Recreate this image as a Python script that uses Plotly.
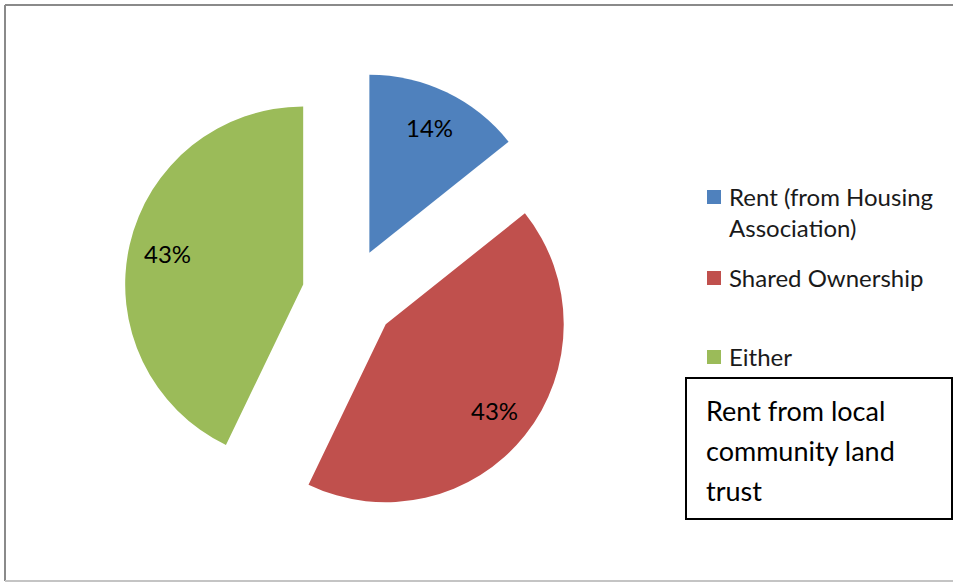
import math
import plotly.graph_objects as go

# Survey responses: preferred tenure
labels = ["Rent (from Housing Association)", "Shared Ownership", "Either"]
legend_text = ["Rent (from Housing<br>Association)", "Shared Ownership", "Either"]
values = [1, 3, 3]
colors = ["#4F81BD", "#C0504D", "#9BBB59"]
note_lines = ["Rent from local", "community land", "trust"]

W, H = 953, 582
FONT = "Lato"
PULL = 0.264

# Pie domain in pixels (left, top, right, bottom)
DOM_L, DOM_T, DOM_R, DOM_B = 124, 70, 574, 520


def px(x):
    return x / W


def py(y):
    return 1 - y / H


fig = go.Figure(
    go.Pie(
        labels=labels,
        values=values,
        sort=False,
        direction="clockwise",
        rotation=0,
        pull=[PULL] * len(values),
        marker=dict(colors=colors, line=dict(width=0)),
        textinfo="none",
        domain=dict(x=[px(DOM_L), px(DOM_R)], y=[py(DOM_B), py(DOM_T)]),
        showlegend=False,
        hoverinfo="label+percent",
    )
)

shapes = []
annotations = []

# Percentage labels placed along each slice's bisector, ~78% of the radius out
cx, cy = (DOM_L + DOM_R) / 2, (DOM_T + DOM_B) / 2
radius = min(DOM_R - DOM_L, DOM_B - DOM_T) / 2 / (1 + PULL)
total = sum(values)
start = 0.0
for v in values:
    frac = v / total
    mid = (start + frac / 2) * 2 * math.pi
    dist = radius * (PULL + 0.78)
    lx = cx + dist * math.sin(mid)
    ly = cy - dist * math.cos(mid)
    annotations.append(dict(xref="paper", yref="paper", x=px(lx), y=py(ly),
                            xanchor="center", yanchor="middle",
                            text=f"{round(frac * 100)}%", showarrow=False,
                            font=dict(family=FONT, size=24, color="#000000")))
    start += frac

# Chart-area frame
shapes.append(dict(type="line", xref="paper", yref="paper", x0=px(5), x1=1.0,
                   y0=py(5), y1=py(5), line=dict(color="#8a8a8a", width=2)))
shapes.append(dict(type="line", xref="paper", yref="paper", x0=px(5), x1=px(5),
                   y0=py(5), y1=py(581), line=dict(color="#8a8a8a", width=2)))
shapes.append(dict(type="line", xref="paper", yref="paper", x0=px(5), x1=1.0,
                   y0=py(581), y1=py(581), line=dict(color="#c4c4c4", width=2)))

# Legend: colour key and labels
legend_rows = [197, 278, 357]
for txt, col, yc in zip(legend_text, colors, legend_rows):
    shapes.append(dict(type="rect", xref="paper", yref="paper",
                       x0=px(707), x1=px(721), y0=py(yc + 7), y1=py(yc - 7),
                       fillcolor=col, line=dict(width=0)))
    annotations.append(dict(xref="paper", yref="paper", x=px(727), y=py(yc - 17),
                            xanchor="left", yanchor="top", align="left",
                            text=txt, showarrow=False,
                            font=dict(family=FONT, size=24, color="#1a1a1a")))

# Boxed note
shapes.append(dict(type="rect", xref="paper", yref="paper",
                   x0=px(686), x1=px(952), y0=py(519), y1=py(378),
                   line=dict(color="#000000", width=2), fillcolor="rgba(0,0,0,0)"))
for i, line in enumerate(note_lines):
    annotations.append(dict(xref="paper", yref="paper", x=px(704), y=py(410 + 40 * i),
                            xanchor="left", yanchor="middle", align="left",
                            text=line, showarrow=False,
                            font=dict(family=FONT, size=27, color="#000000")))

fig.update_layout(
    width=W,
    height=H,
    margin=dict(l=0, r=0, t=0, b=0),
    paper_bgcolor="#ffffff",
    plot_bgcolor="#ffffff",
    shapes=shapes,
    annotations=annotations,
)

fig.write_html("out.html")
